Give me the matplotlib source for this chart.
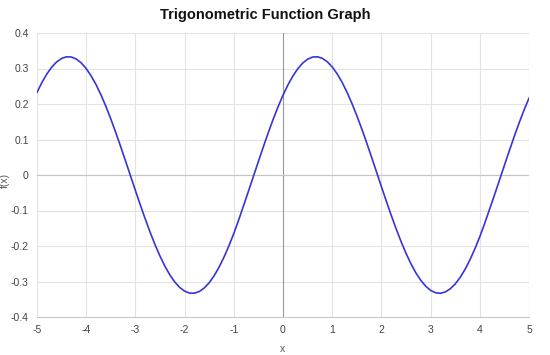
import matplotlib
matplotlib.use("Agg")
import matplotlib.pyplot as plt

plt.rcParams["font.family"] = ["Liberation Sans", "DejaVu Sans"]

# values, step 0.1 from -5 to 5
x_vals = [round(-5 + 0.1 * i, 1) for i in range(101)]
f_vals = [0.2328, 0.2607, 0.2845, 0.3039, 0.3186, 0.3284, 0.3330, 0.3323, 0.3265, 0.3156,
          0.2998, 0.2794, 0.2546, 0.2258, 0.1934, 0.1579, 0.1200, 0.0803, 0.0393, -0.0022,
          -0.0437, -0.0844, -0.1238, -0.1615, -0.1966, -0.2286, -0.2570, -0.2813, -0.3013, -0.3167,
          -0.3272, -0.3326, -0.3329, -0.3281, -0.3182, -0.3034, -0.2838, -0.2597, -0.2316, -0.1998,
          -0.1649, -0.1263, -0.0857, -0.0448, -0.0033, 0.0382, 0.0792, 0.1190, 0.1569, 0.1924,
          0.2248, 0.2537, 0.2787, 0.2993, 0.3153, 0.3263, 0.3322, 0.3330, 0.3286, 0.3190,
          0.3045, 0.2852, 0.2614, 0.2335, 0.2019, 0.1674, 0.1302, 0.0910, 0.0504, 0.0089,
          -0.0328, -0.0738, -0.1136, -0.1517, -0.1875, -0.2205, -0.2500, -0.2755, -0.2966, -0.3132,
          -0.3250, -0.3317, -0.3332, -0.3294, -0.3205, -0.3070, -0.2887, -0.2658, -0.2388, -0.2080,
          -0.1739, -0.1360, -0.0959, -0.0556, -0.0144, 0.0272, 0.0684, 0.1085, 0.1470, 0.1832,
          0.2165]

x_ticks = [-5, -4, -3, -2, -1, 0, 1, 2, 3, 4, 5]
y_ticks = [-0.4, -0.3, -0.2, -0.1, 0, 0.1, 0.2, 0.3, 0.4]
y_labels = ["-0.4", "-0.3", "-0.2", "-0.1", "0", "0.1", "0.2", "0.3", "0.4"]

fig = plt.figure(figsize=(5.5, 3.55), dpi=100)
ax = fig.add_axes([37 / 550, 38 / 355, 492 / 550, 284 / 355])

ax.plot(x_vals, f_vals, color="#3535d8", linewidth=1.2, zorder=3)

ax.set_xlim(-5, 5)
ax.set_ylim(-0.4, 0.4)
ax.set_xticks(x_ticks)
ax.set_xticklabels([str(t) for t in x_ticks])
ax.set_yticks(y_ticks)
ax.set_yticklabels(y_labels)
ax.grid(True, color="#e3e3e3", linewidth=0.8)
ax.axvline(0, color="#9a9a9a", linewidth=0.8, zorder=2)
ax.axhline(0, color="#c4c4c4", linewidth=0.8, zorder=2)

for side in ["top", "right", "left"]:
    ax.spines[side].set_visible(False)
ax.spines["bottom"].set_color("#c8c8c8")
ax.tick_params(length=0, labelsize=7.5, labelcolor="#444444", pad=6)

ax.set_xlabel("x", fontsize=7.5, color="#555555", labelpad=6)
fig.text(5 / 550, 175 / 355, "f(x)", rotation=90, ha="center", va="center",
         fontsize=7.5, color="#555555")

fig.text(265 / 550, 1 - 15 / 355, "Trigonometric Function Graph",
         ha="center", va="center", fontsize=10.5, fontweight="bold", color="#111111")

fig.savefig("out.png", dpi=100)
